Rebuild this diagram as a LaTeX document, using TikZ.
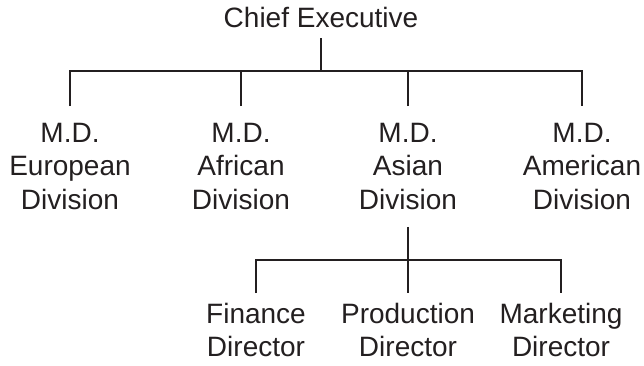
\documentclass[tikz,border=0pt]{standalone}
\usepackage{fontspec}
\setmainfont{Liberation Sans}
\usepackage{tikz}
\definecolor{ink}{RGB}{35,31,32}

\begin{document}
\begin{tikzpicture}[x=1pt, y=-1pt,
    post/.style={font=\fontsize{28}{33.5}\selectfont, text=ink, align=center, inner xsep=0pt},
    link/.style={draw=ink, line width=1.6pt}]
            \useasboundingbox (0,0) rectangle (644,365);

            % Chief Executive
            \node[post, inner ysep=10pt, anchor=south] (ceo) at (321, 38) {Chief Executive};
            \coordinate (bus1) at (321, 71);

            % Divisions
            \node[post, inner ysep=17pt, anchor=north] (euro) at (70, 106) {M.D.\\European\\Division};
            \node[post, inner ysep=17pt, anchor=north] (afr) at (241, 106) {M.D.\\African\\Division};
            \node[post, inner ysep=17pt, anchor=north] (asia) at (408, 106) {M.D.\\Asian\\Division};
            \node[post, inner ysep=17pt, anchor=north] (amer) at (582, 106) {M.D.\\American\\Division};
            \draw[link] (ceo.south) -- (bus1);
            \draw[link] (euro.north) |- (bus1) -| (amer.north);
            \draw[link] (afr.north) -- (afr.north |- bus1);
            \draw[link] (asia.north) -- (asia.north |- bus1);

            % Asian Division directors
            \coordinate (bus2) at (408, 260);
            \node[post, inner ysep=10pt, anchor=north] (fin) at (256, 293) {Finance\\Director};
            \node[post, inner ysep=10pt, anchor=north] (prod) at (408, 293) {Production\\Director};
            \node[post, inner ysep=10pt, anchor=north] (mkt) at (561, 293) {Marketing\\Director};
            \draw[link] (asia.south) -- (prod.north);
            \draw[link] (fin.north) |- (bus2) -| (mkt.north);
\end{tikzpicture}
\end{document}
